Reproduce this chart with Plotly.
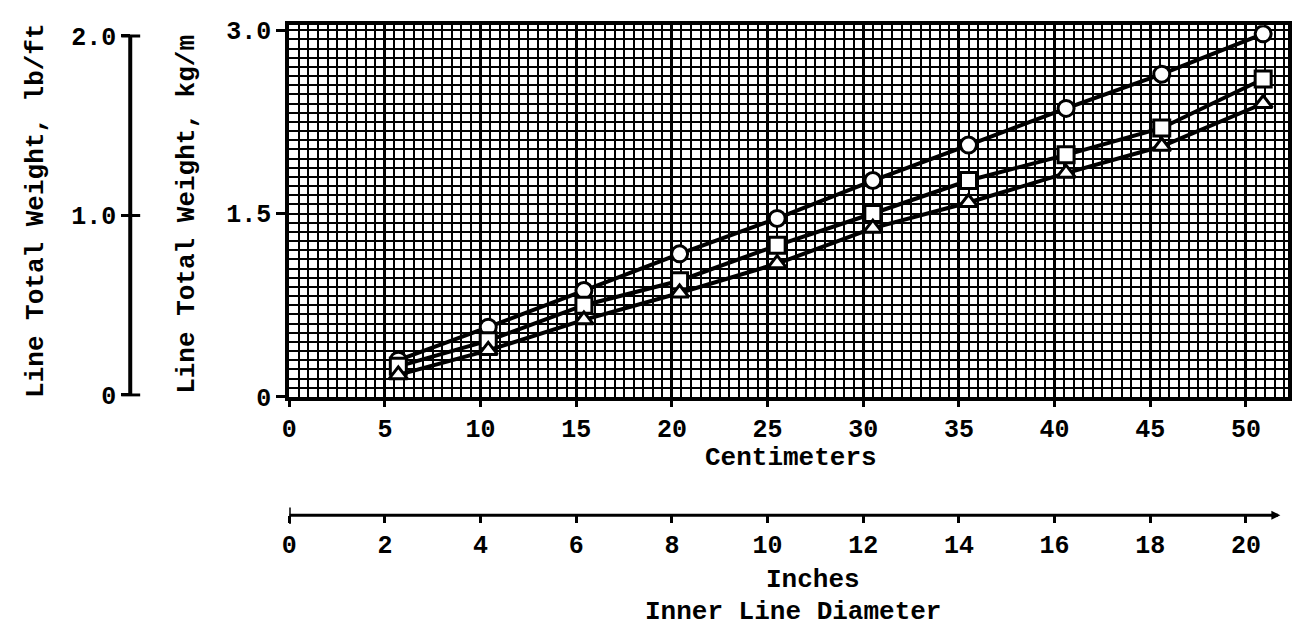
import plotly.graph_objects as go

# ---------------- data ----------------
x_cm = [5.7, 10.4, 15.4, 20.4, 25.5, 30.5, 35.5, 40.6, 45.6, 50.9]
circle_kgm = [0.30, 0.57, 0.87, 1.17, 1.46, 1.77, 2.06, 2.36, 2.64, 2.97]
square_kgm = [0.25, 0.46, 0.75, 0.95, 1.24, 1.50, 1.77, 1.98, 2.20, 2.60]
triangle_kgm = [0.18, 0.38, 0.63, 0.85, 1.09, 1.38, 1.59, 1.83, 2.05, 2.40]

cm_ticks = [0, 5, 10, 15, 20, 25, 30, 35, 40, 45, 50]
inch_ticks = [0, 2, 4, 6, 8, 10, 12, 14, 16, 18, 20]
kgm_ticks = [0, 1.5, 3.0]
kgm_labels = ["0", "1.5", "3.0"]
lbft_ticks = [0, 1.0, 2.0]
lbft_labels = ["0", "1.0", "2.0"]

W, H = 1294, 642


def px(x):
    return x / W


def py(y):
    return 1 - y / H


SERIF = "Liberation Mono, Courier New, monospace"
TICKFONT = dict(family=SERIF, size=25, color="black", weight="bold")
TITLEFONT = dict(family=SERIF, size=26, color="black", weight="bold")

fig = go.Figure()

series = [
    ("circle", circle_kgm),
    ("square", square_kgm),
    ("triangle-up", triangle_kgm),
]
for sym, vals in series:
    fig.add_trace(go.Scatter(
        x=x_cm, y=vals, mode="lines+markers",
        line=dict(color="black", width=4),
        marker=dict(symbol=sym, size=16, color="white",
                    line=dict(color="black", width=3)),
        showlegend=False, hoverinfo="skip",
    ))

# invisible traces so that the secondary axes are drawn
fig.add_trace(go.Scatter(x=[0], y=[0], xaxis="x2", yaxis="y", mode="markers",
                         marker=dict(opacity=0), showlegend=False, hoverinfo="skip"))
fig.add_trace(go.Scatter(x=[0], y=[0], xaxis="x", yaxis="y2", mode="markers",
                         marker=dict(opacity=0), showlegend=False, hoverinfo="skip"))

x_dom = [px(283), px(1288)]
y_dom = [py(405), py(19)]
x_max = 52.2
y_max = 3.04

fig.update_layout(
    width=W, height=H, autosize=False,
    margin=dict(l=0, r=0, t=0, b=0),
    paper_bgcolor="white", plot_bgcolor="white",
    xaxis=dict(
        domain=x_dom, range=[0, x_max],
        tickvals=cm_ticks, ticks="outside", ticklen=6, tickwidth=3,
        tickcolor="black", tickfont=TICKFONT,
        showline=True, linewidth=4, linecolor="black", mirror=True,
        showgrid=True, gridcolor="black", gridwidth=2.5,
        minor=dict(tick0=0, dtick=0.5, showgrid=True, gridcolor="black",
                   gridwidth=2, ticks=""),
        zeroline=False, fixedrange=True,
    ),
    yaxis=dict(
        domain=y_dom, range=[0, y_max],
        tickvals=kgm_ticks, ticktext=kgm_labels,
        ticks="outside", ticklen=9, tickwidth=3, tickcolor="black",
        tickfont=TICKFONT,
        showline=True, linewidth=4, linecolor="black", mirror=True,
        showgrid=True, gridcolor="black", gridwidth=2,
        minor=dict(tick0=0, dtick=0.075, showgrid=True, gridcolor="black",
                   gridwidth=2, ticks=""),
        zeroline=False, fixedrange=True,
    ),
    xaxis2=dict(
        overlaying="x", anchor="free", position=py(528), side="bottom",
        range=[0, x_max / 2.5],
        tickvals=inch_ticks, ticks="outside", ticklen=7, tickwidth=3,
        tickcolor="black", tickfont=TICKFONT,
        showline=False, showgrid=False, zeroline=False, fixedrange=True,
    ),
    yaxis2=dict(
        overlaying="y", anchor="free", position=px(123), side="left",
        range=[-(405 - 403) / 186.5, (403 - 19) / 186.5],
        tickvals=lbft_ticks, ticktext=lbft_labels,
        ticks="outside", ticklen=9, tickwidth=3, tickcolor="black",
        tickfont=TICKFONT,
        showline=False, showgrid=False, zeroline=False, fixedrange=True,
    ),
)

shapes = [
    # lb/ft scale bar
    dict(type="line", xref="paper", yref="y2", x0=px(123), x1=px(123),
         y0=0, y1=2.0, line=dict(color="black", width=4)),
]
for v in lbft_ticks:
    shapes.append(dict(type="line", xref="paper", yref="y2", x0=px(114), x1=px(133),
                       y0=v, y1=v, line=dict(color="black", width=3)))
# inch scale bar
shapes.append(dict(type="line", xref="x2", yref="paper", x0=0, x1=20.6,
                   y0=py(528), y1=py(528), line=dict(color="black", width=3)))
shapes.append(dict(type="line", xref="x2", yref="paper", x0=0, x1=0,
                   y0=py(520), y1=py(537), line=dict(color="black", width=3)))
fig.update_layout(shapes=shapes)

annotations = [
    dict(text="Line Total Weight, lb/ft", x=px(28), y=py(212), textangle=-90),
    dict(text="Line Total Weight, kg/m", x=px(180), y=py(215), textangle=-90),
    dict(text="Centimeters", x=px(788), y=py(468)),
    dict(text="Inches", x=px(810), y=py(595)),
    dict(text="Inner Line Diameter", x=px(790), y=py(628)),
]
for a in annotations:
    a.update(xref="paper", yref="paper", showarrow=False, font=TITLEFONT,
             xanchor="center", yanchor="middle")
# small arrowhead at the end of the inch scale
annotations.append(dict(text="", xref="x2", yref="paper", x=20.72, y=py(528),
                        ax=-10, ay=0, showarrow=True, arrowhead=2, arrowsize=0.6,
                        arrowwidth=3, arrowcolor="black"))
fig.update_layout(annotations=annotations)

fig.write_html("out.html")
